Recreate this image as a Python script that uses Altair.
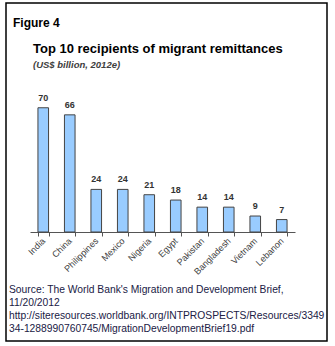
import altair as alt
import pandas as pd

countries = ["India", "China", "Philippines", "Mexico", "Nigeria", "Egypt",
             "Pakistan", "Bangladesh", "Vietnam", "Lebanon"]
values = [70, 66, 24, 24, 21, 18, 14, 14, 9, 7]

fig_label = "Figure 4"
title_text = "Top 10 recipients of migrant remittances"
subtitle_text = "(US$ billion, 2012e)"
source_lines = [
    "Source: The World Bank's Migration and Development Brief,",
    "11/20/2012",
    "http://siteresources.worldbank.org/INTPROSPECTS/Resources/3349",
    "34-1288990760745/MigrationDevelopmentBrief19.pdf",
]

df = pd.DataFrame({"country": countries, "value": values})

PL, PT = 30, 90
W, H = 265, 142

x_enc = alt.X("country:N", sort=countries,
              scale=alt.Scale(paddingInner=0.6, paddingOuter=0.3),
              axis=alt.Axis(title=None, labelAngle=-45, labelFontSize=9,
                            labelFont="Liberation Sans", labelColor="#404040",
                            domainColor="#555555", tickColor="#555555",
                            tickSize=4, tickBand="extent", labelPadding=3,
                            labelAlign="right", labelBaseline="middle"))
y_enc = alt.Y("value:Q", scale=alt.Scale(domain=[0, 72.5]), axis=None)

base = alt.Chart(df)
bars = base.mark_bar(color="#99CCFF", stroke="#444444", strokeWidth=1).encode(x=x_enc, y=y_enc)
labels = base.mark_text(dy=-10, fontSize=9, fontWeight="bold", font="Liberation Sans",
                        color="#333333").encode(x=alt.X("country:N", sort=countries), y="value:Q",
                                                text="value:Q")

def txt(text, x, y, **kw):
    return alt.Chart(df.head(1)).mark_text(align="left", baseline="alphabetic",
                                           font="Liberation Sans", **kw).encode(
        x=alt.value(x), y=alt.value(y), text=alt.value(text))

fig = txt(fig_label, 13 - PL, 27 - PT, fontSize=12, fontWeight="bold", color="#000000")
title = txt(title_text, 33 - PL, 53 - PT, fontSize=13, fontWeight="bold", color="#000000")
sub = txt(subtitle_text, 33 - PL, 68 - PT, fontSize=9.5, fontStyle="italic",
          fontWeight="bold", color="#404040")
source = alt.Chart(df.head(1)).mark_text(align="left", baseline="alphabetic",
                                         font="Liberation Sans", fontSize=10.3,
                                         color="#202045", lineBreak="\n",
                                         lineHeight=13).encode(
    x=alt.value(9 - PL), y=alt.value(293 - PT), text=alt.value("\n".join(source_lines)))

border = alt.Chart(df.head(1)).mark_rect(fill=None, stroke="#000000", strokeWidth=1.5).encode(
    x=alt.value(6 - PL), x2=alt.value(327 - PL), y=alt.value(3 - PT), y2=alt.value(341 - PT))

chart = alt.layer(border, bars, labels, fig, title, sub, source).properties(
    width=W, height=H,
    autosize=alt.AutoSizeParams(type="none"),
    padding={"left": PL, "top": PT, "right": 335 - PL - W, "bottom": 346 - PT - H},
    background="white",
).configure_view(stroke=None)

chart.save("out.html", embed_options={"renderer": "svg", "actions": False})
